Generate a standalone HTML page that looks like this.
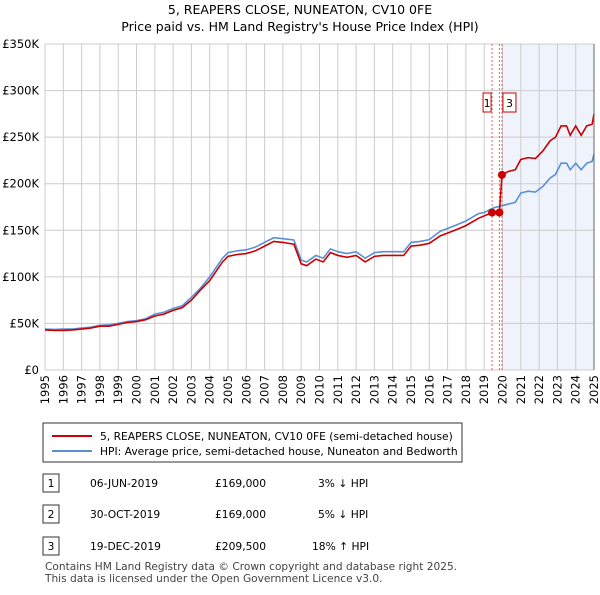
<!DOCTYPE html>
<html><head><meta charset="utf-8"><style>
body{margin:0;background:#fff;font-family:"Liberation Sans","DejaVu Sans",sans-serif;}
svg text{font-family:"DejaVu Sans","Liberation Sans",sans-serif;}
</style></head><body>
<svg width="600" height="590" xmlns="http://www.w3.org/2000/svg">
<text x="300" y="14" font-size="12.5" text-anchor="middle">5, REAPERS CLOSE, NUNEATON, CV10 0FE</text>
<text x="300" y="31" font-size="12.5" text-anchor="middle">Price paid vs. HM Land Registry's House Price Index (HPI)</text>
<g id="plot"></g>
<g>
<rect x="43" y="423" width="419" height="39" fill="#fff" stroke="#333"/>
<line x1="52" y1="436" x2="92" y2="436" stroke="#cc0000" stroke-width="2"/>
<text x="100" y="440" font-size="10.7">5, REAPERS CLOSE, NUNEATON, CV10 0FE (semi-detached house)</text>
<line x1="52" y1="451" x2="92" y2="451" stroke="#5b8fd6" stroke-width="2"/>
<text x="100" y="455" font-size="10.7">HPI: Average price, semi-detached house, Nuneaton and Bedworth</text>
</g>
<g font-size="10.7">
<rect x="43" y="474" width="16" height="18" fill="#fff" stroke="#333"/><text x="51" y="487" text-anchor="middle">1</text>
<text x="90" y="487">06-JUN-2019</text><text x="215" y="487">£169,000</text><text x="318" y="487">3% ↓ HPI</text>
<rect x="43" y="505" width="16" height="18" fill="#fff" stroke="#333"/><text x="51" y="518" text-anchor="middle">2</text>
<text x="90" y="518">30-OCT-2019</text><text x="215" y="518">£169,000</text><text x="318" y="518">5% ↓ HPI</text>
<rect x="43" y="537" width="16" height="18" fill="#fff" stroke="#333"/><text x="51" y="550" text-anchor="middle">3</text>
<text x="90" y="550">19-DEC-2019</text><text x="215" y="550">£209,500</text><text x="312" y="550">18% ↑ HPI</text>
</g>
<text x="45" y="570" font-size="10.6" fill="#444">Contains HM Land Registry data © Crown copyright and database right 2025.</text>
<text x="45" y="582" font-size="10.6" fill="#444">This data is licensed under the Open Government Licence v3.0.</text>
</svg>
<script>
const hpiYears=[1995,1995.5,1996,1996.5,1997,1997.5,1998,1998.5,1999,1999.5,2000,2000.5,2001,2001.5,2002,2002.5,2003,2003.5,2004,2004.7,2005,2005.5,2006,2006.5,2007,2007.5,2008,2008.6,2009,2009.3,2009.8,2010.2,2010.6,2011,2011.5,2012,2012.5,2013,2013.5,2014,2014.6,2015,2015.5,2016,2016.6,2017.4,2018,2018.7,2019,2019.5,2019.9,2020.3,2020.7,2021,2021.4,2021.8,2022.2,2022.6,2022.9,2023.2,2023.5,2023.7,2024,2024.3,2024.6,2024.9,2025];
const hpiValues=[44,43.5,44,44,45,46,48,48.5,50,52,53,55,60,62,66,69,78,88,100,120,126,128,129,132,137,142,141,139.6,118,116,123,120,130,127,125,127,120,126,127,127,127,137,138,140,149,155,160,168,169,174,176,178,180,190,192,191,197,206,210,222,222,215,222,215,222,224,232];
const priceYears=[1995,1995.5,1996,1996.5,1997,1997.5,1998,1998.5,1999,1999.5,2000,2000.5,2001,2001.5,2002,2002.5,2003,2003.5,2004,2004.7,2005,2005.5,2006,2006.5,2007,2007.5,2008,2008.6,2009,2009.3,2009.8,2010.2,2010.6,2011,2011.5,2012,2012.5,2013,2013.5,2014,2014.6,2015,2015.5,2016,2016.6,2017.4,2018,2018.7,2019.43,2019.83,2019.97,2020.3,2020.7,2021,2021.4,2021.8,2022.2,2022.6,2022.9,2023.2,2023.5,2023.7,2024,2024.3,2024.6,2024.9,2025];
const priceValues=[43,42.5,42.5,43,44,45,47,47,49,51,52,54,58,60,64,67,75,86,96,116,122,124,125,128,133,138,137,135,114,112,119,116,126,123,121,123,116,122,123,123,123,133,134,136,144,150,155,163,169,169,209.5,213,215,226,228,227,235,246,250,262,262,252,262,252,262,264,275];
const saleYears=[2019.43,2019.83,2019.97];
const saleValues=[169,169,209.5];
const saleLabels=['1','2','3'];
const yTicks=[0,50,100,150,200,250,300,350];
const xTicks=[1995,1996,1997,1998,1999,2000,2001,2002,2003,2004,2005,2006,2007,2008,2009,2010,2011,2012,2013,2014,2015,2016,2017,2018,2019,2020,2021,2022,2023,2024,2025];

const NS='http://www.w3.org/2000/svg';
const X0=45,X1=594,Y0=370,Y1=44;
const xs=y=>X0+(y-1995)/30*(X1-X0);
const ys=v=>Y0-v/350*(Y0-Y1);
const g=document.getElementById('plot');
function mk(t,a){const e=document.createElementNS(NS,t);for(const k in a)e.setAttribute(k,a[k]);g.appendChild(e);return e;}
let e=mk('rect',{x:xs(2020),y:Y1,width:X1-xs(2020),height:Y0-Y1,fill:'#eef3fc'});


yTicks.forEach(v=>{
 let l=mk('line',{x1:X0,x2:X1,y1:ys(v),y2:ys(v),stroke:'#ccc'});
 
 
 let t=mk('text',{x:X0-6,y:ys(v)+4,'font-size':11.5,'text-anchor':'end'});
 t.textContent=v===0?'£0':'£'+v+'K';
 
 
});
xTicks.forEach(y=>{
 let l=mk('line',{x1:xs(y),x2:xs(y),y1:Y1,y2:Y0,stroke:'#ccc'});
 
 
 let t=mk('text',{x:0,y:0,'font-size':11.5,'text-anchor':'end',transform:`translate(${xs(y)+4},${Y0+5}) rotate(-90)`});
 t.textContent=y;
 
 
});
saleYears.forEach(y=>{
 let l=mk('line',{x1:xs(y),x2:xs(y),y1:Y1,y2:Y0,stroke:'#f06060','stroke-dasharray':'2,2'});
 
 
});
let p1=mk('polyline',{points:hpiYears.map((y,i)=>xs(y)+','+ys(hpiValues[i])).join(' '),fill:'none',stroke:'#5b8fd6','stroke-width':1.6});


let p2=mk('polyline',{points:priceYears.map((y,i)=>xs(y)+','+ys(priceValues[i])).join(' '),fill:'none',stroke:'#cc0000','stroke-width':1.6});


saleYears.forEach((y,i)=>{
 let c=mk('circle',{cx:xs(y),cy:ys(saleValues[i]),r:4,fill:'#cc0000'});
 
 
});
[[0,'1'],[2,'3']].forEach(([i,lab])=>{
 let bx=xs(saleYears[i])-(i===0?8:-2);
 let r=mk('rect',{x:bx-1,y:93,width:i===0?8:13,height:19,fill:'#fff',stroke:'#cc0000'});
 
 
 let t=mk('text',{x:bx+(i===0?3:5.5),y:107,'font-size':11,'text-anchor':'middle'});
 t.textContent=lab;
 
 
});
let ax=mk('line',{x1:X1,x2:X1,y1:Y1,y2:Y0,stroke:'#666'});


</script>
</body></html>
